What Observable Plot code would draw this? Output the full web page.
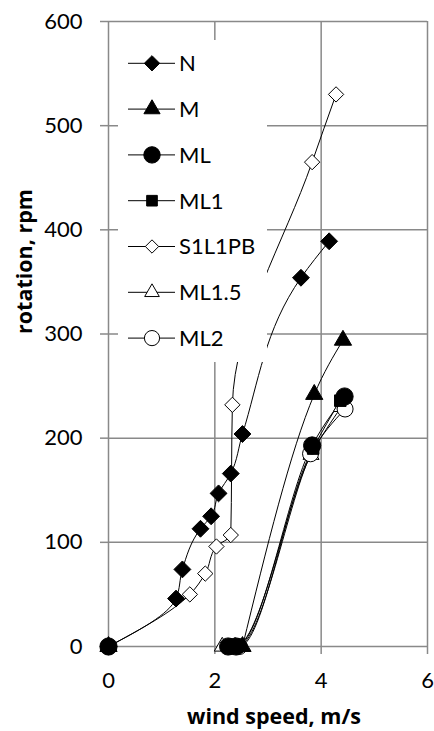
<!DOCTYPE html>
<html><head><meta charset="utf-8">
<script src="https://cdn.jsdelivr.net/npm/d3@7"></script>
<script src="https://cdn.jsdelivr.net/npm/@observablehq/plot@0.6"></script>
<style>body{margin:0;background:#fff} svg{display:block}</style>
</head><body><div id="chart"></div>
<script>
// ---- data ----
const seriesNames = ["N", "M", "ML", "ML1", "S1L1PB", "ML1.5", "ML2"];
const xN = [0, 1.27, 1.39, 1.73, 1.93, 2.07, 2.30, 2.52, 3.62, 4.15];
const yN = [0, 46, 74, 113, 125, 147, 166, 204, 354, 389];
const xM = [0, NaN, 2.52, 3.87, 4.41];
const yM = [0, NaN, 0, 242, 294];
const xML = [0, NaN, 2.25, 2.40, 3.83, 4.44];
const yML = [0, NaN, 0, 0, 193, 240];
const xML1 = [0, NaN, 2.28, 2.42, 3.85, 4.36];
const yML1 = [0, NaN, 0, 0, 190, 236];
const xS1L1PB = [0, 1.53, 1.82, 2.03, 2.30, 2.33, 3.83, 4.28];
const yS1L1PB = [0, 50, 70, 96, 107, 232, 465, 530];
const xML15 = [0, NaN, 2.14, 2.38, 3.81, 4.38];
const yML15 = [0, NaN, 0, 0, 184, 230];
const xML2 = [0, NaN, 2.30, 2.46, 3.80, 4.45];
const yML2 = [0, NaN, 0, 0, 185, 228];
const xTicks = [0, 2, 4, 6];
const yTicks = [0, 100, 200, 300, 400, 500, 600];
const xTitle = "wind speed, m/s";
const yTitle = "rotation, rpm";

const seriesXY = {
  "N": [xN, yN], "M": [xM, yM], "ML": [xML, yML], "ML1": [xML1, yML1],
  "S1L1PB": [xS1L1PB, yS1L1PB], "ML1.5": [xML15, yML15], "ML2": [xML2, yML2]
};
const rows = seriesNames.flatMap(s => seriesXY[s][0].map((x, i) => ({series: s, x, y: seriesXY[s][1][i]})));
// series whose rotation rises strictly point to point are smoothed along y, the others along x
const smoothAlongY = ["N", "S1L1PB"];
const rowsY = rows.filter(d => smoothAlongY.includes(d.series));
const rowsX = rows.filter(d => !smoothAlongY.includes(d.series));

// ---- marker styles ----
const mk = {
  "N":      {symbol: "diamond2",  fill: "black", r: 7.6, lr: 6.9},
  "M":      {symbol: "triangle",  fill: "black", r: 6.4, lr: 6.0},
  "ML":     {symbol: "circle",    fill: "black", r: 8.6, lr: 8.2},
  "ML1":    {symbol: "square",    fill: "black", r: 6.5, lr: 6.0},
  "S1L1PB": {symbol: "diamond2",  fill: "white", r: 6.9, lr: 6.0},
  "ML1.5":  {symbol: "triangle2", fill: "white", r: 7.6, lr: 7.0},
  "ML2":    {symbol: "circle",    fill: "white", r: 8.0, lr: 7.6}
};
const drawOrder = ["N", "S1L1PB", "ML1.5", "ML2", "M", "ML1", "ML"];
const gridColor = "#898989";

const plot = Plot.plot({
  width: 434, height: 731,
  marginLeft: 108, marginRight: 7, marginTop: 21, marginBottom: 85,
  style: {fontFamily: "Lato, sans-serif", background: "white", color: "black"},
  x: {domain: [0, 6]},
  y: {domain: [0, 600]},
  marks: [
    Plot.gridX(xTicks, {stroke: gridColor, strokeOpacity: 1, strokeWidth: 1.5}),
    Plot.gridY(yTicks, {stroke: gridColor, strokeOpacity: 1, strokeWidth: 1.5}),
    Plot.axisX(xTicks, {tickSize: 8, tickPadding: 18, stroke: gridColor, strokeWidth: 1.5, fontSize: 22, label: null, tickFormat: d => d}),
    Plot.axisY(yTicks, {tickSize: 8, tickPadding: 18, stroke: gridColor, strokeWidth: 1.5, fontSize: 22, label: null, tickFormat: d => d}),
    Plot.line(rowsY, {x: "x", y: "y", z: "series", curve: "monotone-y", stroke: "black", strokeWidth: 1}),
    Plot.line(rowsX, {x: "x", y: "y", z: "series", curve: "monotone-x", stroke: "black", strokeWidth: 1}),
    ...drawOrder.map(s => Plot.dot(rows.filter(d => d.series === s), {
      x: "x", y: "y", symbol: mk[s].symbol, r: mk[s].r, fill: mk[s].fill, stroke: "black", strokeWidth: 1
    })),
    Plot.text([xTitle], {frameAnchor: "bottom", lineAnchor: "middle", dy: 71, dx: 6, fontWeight: "bold", fontSize: 21.5, fontFamily: "Open Sans, sans-serif"}),
    Plot.text([yTitle], {frameAnchor: "left", lineAnchor: "middle", dx: -83, rotate: -90, fontWeight: "bold", fontSize: 21.5, fontFamily: "Open Sans, sans-serif"})
  ]
});
document.getElementById("chart").appendChild(plot);

// ---- legend (Excel-style, inside the plot area) ----
const svg = d3.select(plot);
const lg = svg.append("g").attr("font-family", "Lato, sans-serif").attr("font-size", 22).attr("text-anchor", "start");
lg.append("rect").attr("x", 118).attr("y", 40).attr("width", 149).attr("height", 322).attr("fill", "white");
const symMap = {diamond2: d3.symbolDiamond2, triangle: d3.symbolTriangle, circle: d3.symbolCircle, square: d3.symbolSquare, triangle2: d3.symbolTriangle2};
seriesNames.forEach((s, i) => {
  const cy = 63.3 + i * 45.8;
  const g = lg.append("g").attr("transform", `translate(0,${cy})`);
  g.append("line").attr("x1", 128).attr("x2", 175).attr("y1", 0).attr("y2", 0).attr("stroke", "black").attr("stroke-width", 1);
  g.append("path").attr("transform", "translate(152,0)")
    .attr("d", d3.symbol(symMap[mk[s].symbol], Math.PI * mk[s].lr * mk[s].lr)())
    .attr("fill", mk[s].fill).attr("stroke", "black").attr("stroke-width", 1);
  g.append("text").attr("x", 179).attr("dy", "0.36em").attr("fill", "black").attr("text-anchor", "start").text(s);
});
</script>
</body></html>
